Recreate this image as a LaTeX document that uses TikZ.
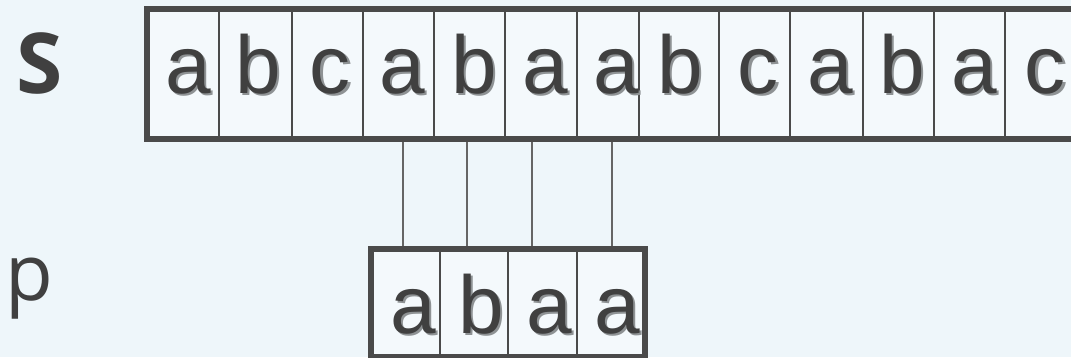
\documentclass[tikz,border=0pt]{standalone}
\usepackage{fontspec}
\setmainfont{Liberation Sans}
\newfontfamily\opensans{Open Sans}
\definecolor{bgc}{HTML}{EEF6FA}
\definecolor{cellc}{HTML}{F4F9FC}
\definecolor{edgec}{HTML}{4A4A4A}
\definecolor{inkc}{HTML}{404040}
\definecolor{shadc}{HTML}{8E9294}
\newcommand\shadowed[1]{\rlap{\hspace{2.5pt}\raisebox{-2.5pt}{\textcolor{shadc}{#1}}}#1}
\tikzset{
  cellbox/.style={draw=edgec, line width=2pt, fill=cellc, inner sep=0pt, anchor=north west},
  outerbox/.style={draw=edgec, line width=6pt},
  letter/.style={inner sep=0pt, anchor=base, text=inkc, font=\fontsize{82}{82}\selectfont},
  link/.style={draw=edgec!85, line width=1.5pt},
  label/.style={inner sep=0pt, anchor=base, text=inkc}
}
\begin{document}
\begin{tikzpicture}[x=1pt,y=-1pt]
\useasboundingbox (0,0) rectangle (1071,357);
\fill[bgc] (0,0) rectangle (1071,357);
\clip (0,0) rectangle (1071,357);
% top string cells
\foreach \i/\l/\r in {1/147/218,2/218/291,3/291/362,4/362/433,5/433/504,6/504/576,7/576/638,8/638/718,9/718/789,10/789/862,11/862/933,12/933/1004,13/1004/1080}{
  \pgfmathsetmacro{\w}{\r-\l}
  \node[cellbox, minimum width=\w pt, minimum height=128pt] (s\i) at (\l,9) {};
}
% bottom pattern cells
\foreach \i/\l/\r in {1/371/439,2/439/507,3/507/576,4/576/643}{
  \pgfmathsetmacro{\w}{\r-\l}
  \node[cellbox, minimum width=\w pt, minimum height=106pt] (p\i) at (\l,249) {};
}
% connectors
\foreach \k/\x in {1/403,2/467,3/532,4/612}{
  \coordinate (k\k) at (\x,0);
  \draw[link] (k\k |- s1.south) -- (k\k |- p1.north);
}
% outer frames
\draw[outerbox] (s1.north west) rectangle (s13.south east);
\draw[outerbox] (p1.north west) rectangle (p4.south east);
% letters of S
\foreach \i/\c/\x in {1/a/188,2/b/258,3/c/330,4/a/402,5/b/474,6/a/545,7/a/616,8/b/680,9/c/758,10/a/830,11/b/902,12/a/974,13/c/1045}{
  \node[letter] (sl\i) at (\x,93) {\shadowed{\c}};
}
% letters of p
\foreach \i/\c/\x in {1/a/413,2/b/481,3/a/549,4/a/617}{
  \node[letter] (pl\i) at (\x,333) {\shadowed{\c}};
}
% labels
\node[label, font=\opensans\bfseries\fontsize{84}{84}\selectfont] (Slabel) at (40,93) {S};
\node[label, font=\opensans\fontsize{78}{78}\selectfont] (plabel) at (29,300) {p};
\end{tikzpicture}
\end{document}
